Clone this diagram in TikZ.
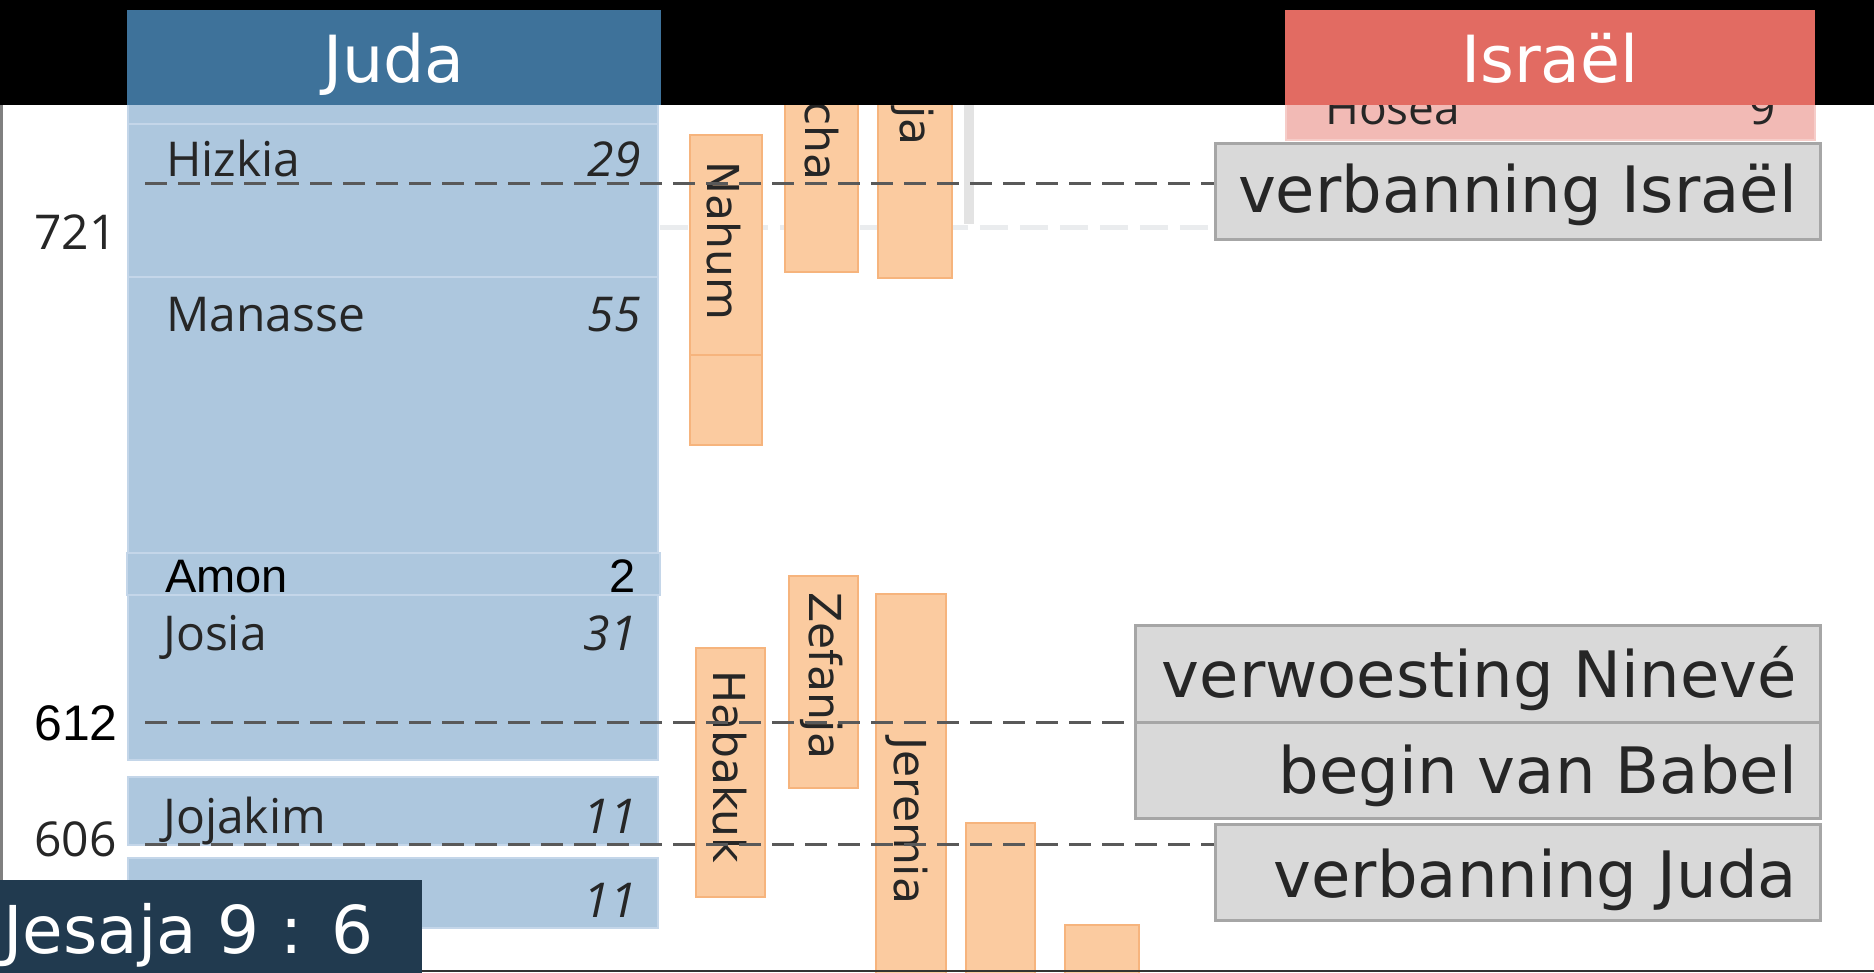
\documentclass[tikz,border=0pt]{standalone}
\usepackage{fontspec}
\setmainfont{DejaVu Sans}
\newfontfamily\osans{Open Sans}
\newfontfamily\lsans{Liberation Sans}
\definecolor{judahead}{RGB}{62,114,154}
\definecolor{judabody}{RGB}{173,199,222}
\definecolor{judaline}{RGB}{196,214,233}
\definecolor{israhead}{RGB}{226,107,98}
\definecolor{israbody}{RGB}{242,186,181}
\definecolor{israline}{RGB}{246,205,201}
\definecolor{prophet}{RGB}{251,203,160}
\definecolor{prophetline}{RGB}{246,180,125}
\definecolor{refbox}{RGB}{33,58,79}
\definecolor{evfill}{RGB}{217,217,217}
\definecolor{evline}{RGB}{166,166,166}
\definecolor{txt}{RGB}{38,38,38}
\definecolor{dashc}{RGB}{89,89,89}
\definecolor{faint}{RGB}{227,227,227}
\definecolor{fainth}{RGB}{234,236,238}
\begin{document}
\begin{tikzpicture}[x=1pt,y=-1pt,
  seg/.style={fill=judabody, draw=judaline, line width=2pt},
  bar/.style={fill=prophet, draw=prophetline, line width=2pt},
  kname/.style={anchor=base west, inner sep=0pt, text=txt, font=\osans\fontsize{48}{50}\selectfont},
  kyears/.style={anchor=base east, inner sep=0pt, text=txt, font=\osans\itshape\fontsize{48}{50}\selectfont},
  pname/.style={rotate=-90, inner sep=0pt, text=txt, font=\fontsize{44}{46}\selectfont},
  evbox/.style={fill=evfill, draw=evline, line width=3pt, inner sep=0pt, anchor=north west},
  evtext/.style={anchor=base east, inner sep=0pt, text=txt, font=\fontsize{64}{67}\selectfont},
  yearlbl/.style={anchor=base east, inner sep=0pt},
  eventline/.style={draw=dashc, line width=3pt, dash pattern=on 22pt off 11pt},
  header/.style={anchor=base, inner sep=0pt, text=white, font=\fontsize{65}{68}\selectfont}]

\useasboundingbox (0,0) rectangle (1874,973);
\fill[white] (0,0) rectangle (1874,973);

% left axis line
\coordinate (axt) at (1.5,105);
\coordinate (axb) at (1.5,880);
\draw[line width=3pt, gray] (axt) -- (axb);

% faint grid lines (behind the bars)
\coordinate (f1) at (660,228);
\coordinate (f4) at (1214,228);
\draw[draw=fainth, line width=5pt, dash pattern=on 28pt off 12pt] (f1) -- (f4);
\coordinate (f2) at (969,105);
\coordinate (f3) at (969,224);
\draw[draw=faint, line width=10pt] (f2) -- (f3);

% Juda kings
\filldraw[seg] (128,95) rectangle (658,124);
\filldraw[seg] (128,124) rectangle (658,277);
\filldraw[seg] (128,277) rectangle (658,553);
\filldraw[seg] (127,553) rectangle (660,595);
\filldraw[seg] (128,595) rectangle (658,760);
\filldraw[seg] (128,777) rectangle (658,845);
\filldraw[seg] (128,858) rectangle (658,928);

\node[kname] (hiz) at (166,177) {Hizkia};
\node[kyears] (hizy) at (641,177) {29};
\node[kname] (man) at (166,332) {Manasse};
\node[kyears] (many) at (641,332) {55};
\node[kname, font=\lsans\fontsize{47}{49}\selectfont, text=black] (amo) at (165,592) {Amon};
\node[kname, anchor=base east, font=\lsans\fontsize{47}{49}\selectfont, text=black] (amoy) at (636,592) {2};
\node[kname] (jos) at (163,650) {Josia};
\node[kyears] (josy) at (637,650) {31};
\node[kname] (joj) at (163,833) {Jojakim};
\node[kyears] (jojy) at (637,833) {11};
\node[kyears] (zedy) at (637,917) {11};

% Israel
\filldraw[fill=israbody, draw=israline, line width=2pt] (1286,90) rectangle (1815,140);
\node[kname, font=\osans\fontsize{46}{48}\selectfont] (hos) at (1325,125) {Hosea};
\node[kyears, font=\osans\fontsize{46}{48}\selectfont] (hosy) at (1776,125) {9};

% prophets
\filldraw[bar] (690,135) rectangle (762,355);
\filldraw[bar] (690,355) rectangle (762,445);
\filldraw[bar] (785,90) rectangle (858,272);
\filldraw[bar] (878,90) rectangle (952,278);
\filldraw[bar] (696,648) rectangle (765,897);
\filldraw[bar] (789,576) rectangle (858,788);
\filldraw[bar] (876,594) rectangle (946,980);
\filldraw[bar] (966,823) rectangle (1035,980);
\filldraw[bar] (1065,925) rectangle (1139,980);

\node[pname] (nah) at (724,241) {Nahum};
\node[pname, anchor=east] (mic) at (822,181) {Micha};
\node[pname, anchor=east] (jes) at (913,146) {Jesaja};
\node[pname] (hab) at (730,767) {Habakuk};
\node[pname] (zef) at (822,676) {Zefanja};
\node[pname] (jer) at (907,821) {Jeremia};

% event boxes
\node[evbox, minimum width=605pt, minimum height=96pt] (ev1) at (1214,142) {};
\node[evbox, minimum width=685pt, minimum height=97pt] (nin) at (1134,624) {};
\node[evbox, minimum width=685pt, minimum height=96pt] (bab) at (1134,721) {};
\node[evbox, minimum width=605pt, minimum height=96pt] (jud) at (1214,823) {};

\node[evtext] (ev1t) at (1797,213) {verbanning Israël};
\node[evtext] (nint) at (1797,697) {verwoesting Ninevé};
\node[evtext] (babt) at (1797,793) {begin van Babel};
\node[evtext] (judt) at (1797,897) {verbanning Juda};

% event lines
\coordinate (d721) at (145,184);
\coordinate (d612) at (145,722);
\coordinate (d606) at (145,844);
\draw[eventline] (d721) -- (d721 -| ev1.west);
\draw[eventline] (d612) -- (d612 -| nin.west);
\draw[eventline] (d606) -- (d606 -| jud.west);

% year labels
\node[yearlbl, text=txt, font=\osans\fontsize{48}{50}\selectfont] (y721) at (117,250) {721};
\node[yearlbl, text=black, font=\lsans\fontsize{50}{52}\selectfont] (y612) at (118,740) {612};
\node[yearlbl, text=txt, font=\osans\fontsize{48}{50}\selectfont] (y606) at (117,856) {606};

% top bar and headers
\fill[black] (0,0) rectangle (1874,105);
\node[fill=judahead, anchor=north west, inner sep=0pt, minimum width=534pt, minimum height=95pt] (judah) at (127,10) {};
\node[header] (judat) at (394,83) {Juda};
\node[fill=israhead, anchor=north west, inner sep=0pt, minimum width=530pt, minimum height=95pt] (israh) at (1285,10) {};
\node[header] (israt) at (1550,83) {Israël};

% bottom line
\coordinate (bl) at (422,971);
\coordinate (br) at (1874,971);
\draw[line width=2.5pt, gray!40!black] (bl) -- (br);

% reference box
\node[fill=refbox, anchor=north west, inner sep=0pt, minimum width=422pt, minimum height=93pt] (refb) at (0,880) {};
\node[anchor=base west, inner sep=0pt, text=white, font=\fontsize{66}{69}\selectfont] (reft) at (3,953) {Jesaja 9 : 6};
\end{tikzpicture}
\end{document}
